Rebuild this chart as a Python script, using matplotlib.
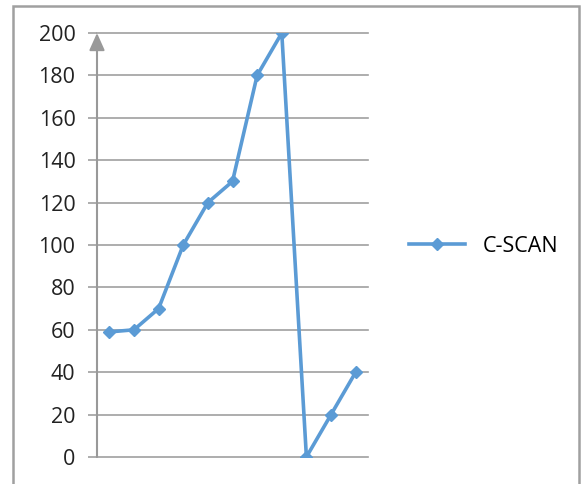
import matplotlib.pyplot as plt
from matplotlib.patches import Rectangle

# C-SCAN head movement sequence
steps = list(range(1, 12))
cscan = [59, 60, 70, 100, 120, 130, 180, 200, 0, 20, 40]
yticks = [0, 20, 40, 60, 80, 100, 120, 140, 160, 180, 200]

blue = '#5B9BD5'
gray = '#a0a0a0'
W, H = 582, 484

plt.rcParams['font.family'] = ['Open Sans', 'DejaVu Sans']

fig = plt.figure(figsize=(W / 100, H / 100), dpi=100)
ax = fig.add_axes([97 / W, (H - 457) / H, (368 - 97) / W, (457 - 33) / H])

ax.plot(steps, cscan, color=blue, lw=2.6, marker='D', ms=6.5, label='C-SCAN')

ax.set_xlim(0.5, 11.5)
ax.set_ylim(0, 200)
ax.set_yticks(yticks)
ax.set_xticks([])
ax.tick_params(axis='y', length=6.5, width=1.2, color=gray, pad=9,
               labelsize=15.5, labelcolor='#222222')
ax.grid(axis='y', color=gray, lw=1.2)
for gl in ax.get_ygridlines():
    gl.set_clip_on(False)
ax.set_axisbelow(True)
for s in ax.spines.values():
    s.set_visible(False)

# value axis with an arrow head
ax.annotate('', xy=(0, 1), xytext=(0, 0), xycoords='axes fraction',
            arrowprops=dict(arrowstyle='-|>,head_length=1.05,head_width=0.47',
                            color='#999999', lw=1.5, shrinkA=0, shrinkB=0))

leg = fig.legend(loc='center left', bbox_to_anchor=(390 / W, (H - 246) / H),
                 frameon=False, fontsize=15.5, handlelength=2.6,
                 handletextpad=0.8)

# chart frame
fig.patches.append(Rectangle((13 / W, -0.1), (579 - 13) / W, 1.1 - 6 / H,
                             transform=fig.transFigure, fill=False,
                             edgecolor=gray, lw=1.8))

fig.savefig('out.png', dpi=100)
